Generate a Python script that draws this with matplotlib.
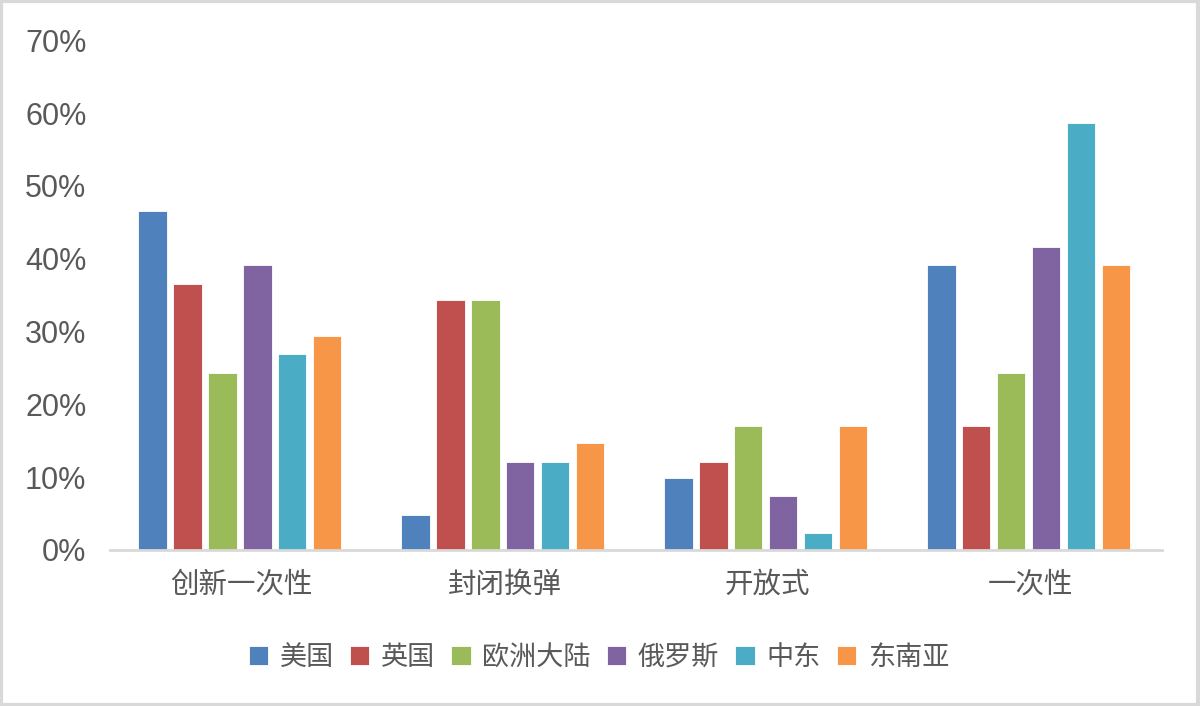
import numpy as np
import matplotlib
matplotlib.use("Agg")
import matplotlib.pyplot as plt
from matplotlib.patches import Rectangle
from matplotlib.ticker import FuncFormatter

plt.rcParams['font.family'] = ['Liberation Sans', 'Noto Sans CJK SC', 'DejaVu Sans']

# data
categories = ['创新一次性', '封闭换弹', '开放式', '一次性']
regions = ['美国', '英国', '欧洲大陆', '俄罗斯', '中东', '东南亚']
colors = ['#4F81BD', '#C0504D', '#9BBB59', '#8064A2', '#4BACC6', '#F79646']
values = {
    '美国':   [0.465, 0.048, 0.099, 0.391],
    '英国':   [0.365, 0.343, 0.121, 0.170],
    '欧洲大陆': [0.243, 0.343, 0.170, 0.243],
    '俄罗斯':  [0.391, 0.121, 0.074, 0.416],
    '中东':   [0.269, 0.121, 0.023, 0.587],
    '东南亚':  [0.294, 0.147, 0.170, 0.391],
}

fig = plt.figure(figsize=(12, 7.06), dpi=100)
ax = fig.add_axes([0.0917, 0.221, 0.8766, 0.722])

x = np.arange(len(categories))
step = 0.133
for i, r in enumerate(regions):
    ax.bar(x + (i - 2.5) * step - 0.006, values[r], width=0.107, color=colors[i],
           edgecolor='white', linewidth=0.6, label=r, zorder=2)

ax.set_xlim(-0.5, len(categories) - 0.5)
ax.set_ylim(0, 0.7)
ax.set_yticks(np.arange(0, 0.71, 0.1))
ax.yaxis.set_major_formatter(FuncFormatter(lambda v, p: f'{v*100:.0f}%'))
ax.set_xticks(x)
ax.set_xticklabels(categories, fontsize=20.5, color='#595959',
                   family=['Noto Sans CJK SC', 'DejaVu Sans'])

for s in ['top', 'right', 'left']:
    ax.spines[s].set_visible(False)
ax.spines['bottom'].set_color('#d9d9d9')
ax.spines['bottom'].set_linewidth(2)
ax.tick_params(axis='y', length=0, pad=17, labelsize=22, labelcolor='#595959')
ax.tick_params(axis='x', length=0, pad=14)

leg = fig.legend(loc='center', bbox_to_anchor=(0.499, 0.069), ncol=6, frameon=False,
                 handlelength=0.72, handleheight=0.7, handletextpad=0.42,
                 columnspacing=0.6, prop={'family': ['Noto Sans CJK SC', 'DejaVu Sans'], 'size': 19.5})
for t in leg.get_texts():
    t.set_color('#595959')

# outer frame of the picture
fig.patches.append(Rectangle((0.001, 0.002), 0.997, 0.996, transform=fig.transFigure,
                             fill=False, edgecolor='#d9d9d9', linewidth=3))

fig.savefig('out.png', dpi=100, facecolor='white')
